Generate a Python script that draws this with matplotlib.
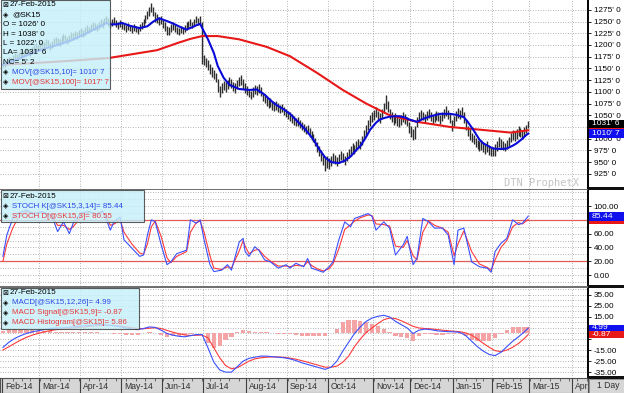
import matplotlib
matplotlib.use("Agg")
import matplotlib.pyplot as plt
import matplotlib.transforms as mtrans
from matplotlib.patches import Rectangle
import numpy as np
import pandas as pd

W, H = 624, 393

holidays = ["2014-02-17", "2014-04-18", "2014-05-26", "2014-07-04", "2014-09-01",
            "2014-11-27", "2014-12-25", "2015-01-01", "2015-01-19", "2015-02-16",
            "2015-04-03"]
# trading days from Feb 3 2014, axis runs on into Apr 2015
days = pd.bdate_range("2014-02-03", "2015-04-30", freq="C", holidays=holidays)

# daily high / low of @SK15, Feb-14 .. 27-Feb-2015
hi = [1168, 1166, 1172, 1175, 1172, 1178, 1182, 1180, 1186, 1184, 1190, 1188, 1194, 1192, 1189, 1195, 1199, 1204, 1201,
      1206, 1210, 1207, 1213, 1210, 1204, 1208, 1214, 1218, 1215, 1212, 1220, 1224, 1221, 1216, 1222, 1228, 1225, 1230, 1227, 1233,
      1236, 1232, 1238, 1242, 1239, 1245, 1250, 1247, 1244, 1250, 1255, 1252, 1258, 1262, 1257, 1252, 1256, 1260, 1254, 1250, 1253,
      1248, 1245, 1242, 1246, 1243, 1240, 1244, 1241, 1238, 1245, 1248, 1256, 1264, 1272, 1280, 1290, 1282, 1270, 1266, 1260, 1262,
      1255, 1248, 1240, 1238, 1244, 1249, 1243, 1238, 1236, 1240, 1237, 1242, 1248, 1252, 1255, 1250, 1256, 1262, 1258, 1261, 1248,
      1178, 1172, 1168, 1160, 1152, 1146, 1140, 1128, 1112, 1118, 1124, 1120, 1126, 1132, 1128, 1122, 1118, 1125, 1131, 1136, 1128, 1118,
      1112, 1106, 1102, 1110, 1115, 1112, 1116, 1110, 1098, 1094, 1088, 1084, 1086, 1080, 1078, 1080, 1076, 1072, 1074, 1068, 1064,
      1060, 1056, 1052, 1048, 1044, 1046, 1040, 1036, 1032, 1028, 1030, 1022, 1016, 1010, 1002, 992, 984, 976, 966, 958, 962,
      958, 964, 970, 966, 960, 968, 974, 970, 964, 972, 978, 984, 990, 986, 994, 1000, 996, 1006, 1018, 1030, 1040, 1050, 1058,
      1062, 1068, 1060, 1054, 1064, 1076, 1093, 1080, 1064, 1056, 1050, 1054, 1048, 1044, 1050, 1056, 1052, 1046, 1036,
      1026, 1020, 1028, 1046, 1056, 1062, 1058, 1052, 1060, 1064, 1056, 1050, 1054, 1060, 1056, 1050, 1058, 1064, 1070, 1062, 1054, 1040,
      1048, 1060, 1066, 1062, 1068, 1056, 1040, 1028, 1020, 1012, 1008, 1002, 998, 994, 998, 992, 988, 994, 986, 982,
      982, 988, 996, 1004, 1000, 994, 990, 998, 1004, 1012, 1018, 1014, 1020, 1026, 1022, 1016, 1024, 1030, 1038]
lo = [1152, 1154, 1158, 1160, 1161, 1164, 1168, 1167, 1171, 1172, 1175, 1176, 1179, 1180, 1176, 1181, 1185, 1188, 1187,
      1191, 1195, 1193, 1198, 1196, 1190, 1194, 1199, 1203, 1201, 1197, 1204, 1209, 1207, 1202, 1207, 1212, 1210, 1215, 1213, 1218,
      1220, 1217, 1222, 1227, 1225, 1230, 1234, 1232, 1229, 1235, 1239, 1237, 1242, 1246, 1240, 1236, 1240, 1244, 1238, 1235, 1238,
      1234, 1231, 1228, 1232, 1229, 1226, 1230, 1227, 1224, 1230, 1234, 1240, 1247, 1255, 1262, 1270, 1262, 1250, 1247, 1242, 1244,
      1236, 1230, 1222, 1221, 1228, 1233, 1227, 1224, 1222, 1226, 1223, 1228, 1233, 1237, 1240, 1236, 1241, 1246, 1243, 1245, 1160,
      1158, 1152, 1146, 1138, 1132, 1128, 1120, 1100, 1090, 1098, 1104, 1100, 1106, 1112, 1108, 1102, 1098, 1105, 1112, 1115, 1106, 1098,
      1094, 1088, 1084, 1090, 1096, 1094, 1098, 1092, 1080, 1076, 1070, 1066, 1068, 1062, 1060, 1062, 1058, 1054, 1056, 1050, 1046,
      1042, 1038, 1034, 1030, 1026, 1028, 1022, 1018, 1014, 1010, 1012, 1004, 998, 992, 984, 972, 962, 952, 944, 930, 938,
      936, 942, 948, 946, 942, 948, 954, 950, 944, 952, 958, 964, 970, 968, 974, 980, 978, 986, 998, 1008, 1018, 1028, 1036,
      1040, 1046, 1038, 1034, 1044, 1054, 1064, 1056, 1042, 1036, 1030, 1034, 1028, 1025, 1030, 1036, 1032, 1026, 1012,
      1004, 998, 1000, 1024, 1036, 1042, 1040, 1034, 1040, 1044, 1038, 1032, 1036, 1040, 1038, 1032, 1038, 1044, 1048, 1042, 1034, 1016,
      1026, 1038, 1044, 1042, 1046, 1034, 1018, 1006, 998, 992, 988, 982, 978, 974, 976, 972, 968, 972, 966, 962,
      962, 964, 974, 982, 980, 976, 974, 978, 984, 992, 998, 996, 1000, 1006, 1004, 1000, 1006, 1012, 1022]

# 10 and 100 day moving averages (trading-day index, value)
ma10_d = [0, 8, 15, 22, 28, 35, 41, 47, 53, 55, 58, 61, 65, 70, 74, 77, 80, 84, 87, 91, 94, 97, 99, 101,
          103, 105, 108, 110, 113, 116, 121, 126, 130, 134, 137, 140, 144, 147, 151, 155, 159, 162, 165,
          168, 172, 175, 178, 181, 183, 186, 188, 191, 193, 196, 198, 201, 203, 206, 208, 212, 215, 219,
          224, 229, 232, 236, 238, 241, 244, 246, 249, 251, 255, 258, 261, 263, 266, 268, 269]
ma10_v = [1158, 1170, 1183, 1193, 1200, 1210, 1221, 1234, 1247, 1244, 1244, 1247, 1241, 1236, 1240, 1250,
          1257, 1251, 1246, 1238, 1233, 1238, 1242, 1245, 1228, 1212, 1183, 1155, 1130, 1115, 1106, 1104,
          1105, 1094, 1082, 1072, 1062, 1053, 1036, 1019, 998, 977, 960, 950, 948, 953, 962, 976, 984, 1004,
          1019, 1034, 1041, 1045, 1047, 1048, 1048, 1045, 1041, 1036, 1042, 1048, 1053, 1053, 1051, 1046,
          1036, 1018, 998, 990, 983, 979, 978, 979, 985, 990, 1000, 1008, 1010.9]
ma100_d = [0, 14, 30, 54, 79, 90, 96, 102, 110, 121, 135, 147, 161, 174, 186, 198, 212, 229, 246, 260, 269]
ma100_v = [1158, 1161, 1165, 1172, 1189, 1205, 1213, 1219, 1219, 1212, 1196, 1176, 1140, 1104, 1075, 1050,
           1036, 1025, 1018.5, 1013, 1017.9]

# stochastics
k_d = [0, 2, 5, 8, 12, 16, 20, 25, 28, 31, 34, 36, 40, 44, 48, 51, 53, 55, 57, 60,
       62, 66, 70, 72, 74, 76, 78, 81, 84, 86, 89, 94, 96, 99, 101, 103, 106, 108, 112, 115,
       117, 121, 123, 124, 126, 129, 131, 134, 137, 141, 145, 147, 150, 154, 156, 158, 161, 164, 167, 169,
       172, 175, 178, 180, 183, 187, 189, 191, 195, 198, 201, 205, 207, 210, 212, 215, 218, 221, 225, 228,
       231, 233, 236, 240, 244, 248, 250, 252, 255, 258, 261, 264, 266, 269]
k_v = [27, 58, 82, 90, 94, 88, 92, 86, 63, 77, 60, 75, 90, 92, 88, 93, 80, 65, 78, 84,
       51, 39, 27, 29, 58, 80, 77, 44, 15, 19, 31, 36, 80, 75, 80, 51, 15, 5, 7, 15,
       7, 48, 53, 34, 27, 41, 36, 22, 19, 10, 15, 10, 17, 12, 24, 10, 7, 4, 12, 19,
       51, 77, 70, 82, 85, 89, 85, 65, 77, 68, 29, 44, 56, 15, 24, 82, 77, 68, 68, 58,
       15, 65, 68, 19, 12, 10, 4, 34, 46, 53, 80, 73, 75, 85.44]
d_v = [20, 45, 68, 84, 92, 90, 90, 87, 72, 72, 66, 70, 84, 91, 89, 91, 84, 72, 74, 80,
       62, 45, 32, 30, 45, 70, 78, 56, 25, 18, 27, 34, 62, 76, 78, 62, 28, 10, 8, 12,
       10, 35, 50, 42, 31, 36, 37, 27, 20, 13, 13, 12, 14, 13, 19, 14, 9, 6, 9, 16,
       38, 66, 73, 78, 83, 87, 86, 74, 73, 71, 42, 40, 50, 28, 22, 62, 78, 72, 68, 62,
       28, 45, 64, 34, 16, 11, 7, 22, 40, 50, 70, 76, 74, 80.55]

# MACD and signal
macd_d = list(range(0, 268, 3)) + [269]
macd_v = [-12.6, -8, -4.5, -2, 0, 1.5, 2.5, 3.5, 4.5, 5,
          5, 5.5, 6, 6.5, 7, 7.5, 8, 8, 7.5, 7,
          6, 5, 4, 3.5, 4.5, 6, 5.5, 3, 0, -1.5,
          -2.5, -3, -2, -1, -1, -13, -26, -33, -35, -35,
          -30, -25, -22.5, -21.5, -20.5, -20.5, -21, -21.5, -22, -23,
          -24.5, -26.5, -28, -29.5, -31, -32.5, -30.5, -25, -16, -8,
          0, 6, 11, 14, 15.6, 16.5, 15, 11, 8, 5,
          0, 3, 4, 3.5, 2.5, 2, 1.7, 1.5, 1, -2,
          -7, -12, -16, -19, -20, -17, -12, -7, -3, 1.5,
          4.99]
sig_v = [-15, -12, -9, -6, -3.5, -1.5, 0, 1.5, 2.5, 3.5,
         4, 4.5, 5, 5.5, 6, 6.5, 7, 7.5, 7.5, 7.3,
         6.8, 6, 5.2, 4.5, 4.3, 4.8, 5.2, 4.5, 2.8, 1.2,
         -0.2, -1.3, -1.8, -1.6, -1.4, -4, -13, -22, -29, -32,
         -31, -28, -25, -23, -22, -21.5, -21.2, -21.3, -21.6, -22.3,
         -23.3, -24.6, -26, -27.5, -29, -30.5, -30.5, -29.5, -26, -20.5,
         -12, -5, 1, 5, 9, 12.5, 14, 13.5, 11.5, 9,
         6.5, 5, 4.5, 4.2, 3.6, 3, 2.5, 2, 1.6, 0.5,
         -1.5, -5, -9, -12.5, -15.5, -16.5, -15, -12.5, -9, -4.5,
         -0.87]

FONT = ["Liberation Sans", "DejaVu Sans"]
plt.rcParams["font.family"] = FONT
BLUE = "#0a0ad8"
RED = "#e81818"
TBLUE = "#2a48e8"
TRED = "#e83a3a"
GRID = "#9a9a9a"

fig = plt.figure(figsize=(W / 100, H / 100), dpi=100)
fig.patch.set_facecolor("white")

PX = 1.953  # pixels per trading day
XL = (-1.5, -1.5 + 588 / PX)
month_start = [i for i in range(len(days)) if i == 0 or days[i].month != days[i - 1].month]
week_start = [i for i in range(1, len(days)) if days[i].weekday() < days[i - 1].weekday()]


def panel(top, bottom, ylim, grid):
    ax = fig.add_axes([0, 1 - bottom / H, 588 / W, (bottom - top) / H])
    ax.set_facecolor("white")
    ax.yaxis.tick_right()
    ax.set_xticks([])
    ax.tick_params(axis="y", length=2.5, width=0.6, pad=1.5, labelsize=5.9)
    for s in ["top", "left", "bottom"]:
        ax.spines[s].set_visible(False)
    ax.spines["right"].set_linewidth(1.4)
    for g in grid:
        ax.axhline(g, color=GRID, lw=0.6, ls=(0, (1, 2)), zorder=0)
    for m in month_start[1:]:
        ax.axvline(m - 0.5, color=GRID, lw=0.6, ls=(0, (1, 2)), zorder=0)
    ax.set_xlim(XL)
    ax.set_ylim(ylim)
    return ax


def vbox(ax, v, h, txt, fc, tc="white"):
    tr = mtrans.blended_transform_factory(ax.transAxes, ax.transData)
    ax.add_patch(Rectangle((1.002, v - h / 2), 0.062, h, transform=tr, clip_on=False,
                           facecolor=fc, edgecolor="none", zorder=6))
    if txt:
        ax.text(1.006, v, txt, transform=tr, color=tc, fontsize=6.1, va="center", ha="left",
                clip_on=False, zorder=7)


# ---- price panel
ax1 = panel(0, 189, (892.6, 1296), np.arange(925, 1276, 25))
ax1.vlines(range(len(hi)), lo, hi, color="#2e2e2e", lw=1.0, zorder=2)
ax1.plot(ma100_d, ma100_v, color=RED, lw=1.5, zorder=3)
ax1.plot(ma10_d, ma10_v, color=BLUE, lw=1.5, zorder=4)
pt = np.arange(925, 1276, 25)
ax1.set_yticks(pt, ["" if v == 1025 else f"{v}' 0" for v in pt])
ax1.set_ylim(892.6, 1296)
vbox(ax1, 1017.9, 18, "", RED)
vbox(ax1, 1010.9, 18, "1010' 7", "#1010ee")
vbox(ax1, 1031.75, 18, "1031' 6", "black")
ax1.text(0.985, 0.005, "DTN ProphetX", transform=ax1.transAxes, ha="right", va="bottom",
         color="#c4c4c4", fontsize=7.5, family="DejaVu Sans Mono", zorder=1)

# ---- stochastics panel
ax2 = panel(190, 286, (-15.9, 123.2), np.arange(-10, 121, 10))
ax2.axhline(80, color="#e05a5a", lw=0.9, zorder=1)
ax2.axhline(20, color="#e05a5a", lw=0.9, zorder=1)
ax2.plot(k_d, d_v, color="#ff3a3a", lw=0.8, zorder=3)
ax2.plot(k_d, k_v, color="#3a50ff", lw=0.8, zorder=4)
st = np.arange(0, 101, 20)
ax2.set_yticks(st, ["" if v == 80 else f"{v:.2f}" for v in st])
ax2.set_ylim(-15.9, 123.2)
vbox(ax2, 80.55, 13, "", RED)
vbox(ax2, 85.44, 13, "85.44", "#1010ee")

# ---- MACD panel
ax3 = panel(288, 378, (-40.3, 41.2), np.arange(-40, 41, 5))
hist = [m - s for m, s in zip(macd_v, sig_v)]
ax3.bar(macd_d, hist, width=2.2, color="#f4a4a4", edgecolor="none", zorder=2)
ax3.plot(macd_d, sig_v, color="#ff3a3a", lw=0.8, zorder=3)
ax3.plot(macd_d, macd_v, color="#3a50ff", lw=0.8, zorder=4)
mt = np.arange(-35, 36, 10)
ax3.set_yticks(mt, ["" if abs(v) == 5 else f"{v:.2f}" for v in mt])
ax3.set_xlim(XL)
ax3.set_ylim(-40.3, 41.2)
vbox(ax3, -0.87, 5.9, "-0.87", RED)
vbox(ax3, 4.99, 5.9, "4.99", "#1010ee")

# ---- date strip
axx = fig.add_axes([0, 0, 588 / W, 15 / H])
axx.set_facecolor("#d6d6d6")
axx.set_yticks([])
axx.set_xticks([m - 0.5 for m in month_start])
axx.set_xticks(week_start, minor=True)
axx.set_xticklabels([])
axx.set_xlim(XL)
axx.set_ylim(0, 1)
axx.tick_params(axis="x", which="both", direction="in", top=True, bottom=False, color="#404040")
axx.tick_params(axis="x", which="major", length=15, width=0.8)
axx.tick_params(axis="x", which="minor", length=2, width=0.5)
for s in axx.spines.values():
    s.set_color("#505050")
    s.set_linewidth(0.8)
for m in month_start:
    # the last month only shows as "Apr" at the right edge
    lab = days[m].strftime("%b-%y") if m != month_start[-1] else days[m].strftime("%b")
    axx.text(m + 1.0, 0.42, lab, fontsize=6.2, color="#303030",
             va="center", ha="left", clip_on=True)


def px(x, y):
    return x / W, 1 - y / H


def ptext(x, y, s, color="black", size=5.7, **kw):
    fig.text(*px(x, y), s, color=color, fontsize=size, va="center", ha="left", zorder=8, **kw)


# separators and right-hand furniture
fig.patches.append(Rectangle(px(0, 190), 588 / W, 1.2 / H, transform=fig.transFigure,
                             facecolor="#707070", zorder=5))
fig.patches.append(Rectangle(px(0, 287.5), 588 / W, 1.2 / H, transform=fig.transFigure,
                             facecolor="#707070", zorder=5))
for yb in (190, 287.5, 378.5):
    fig.patches.append(Rectangle(px(588, yb), 36 / W, 3 / H, transform=fig.transFigure,
                                 facecolor="#101010", zorder=5))
fig.patches.append(Rectangle(px(588.5, 393), 35.5 / W, 14.5 / H, transform=fig.transFigure,
                             facecolor="#d6d6d6", edgecolor="#808080", lw=0.6, zorder=5))
ptext(597, 385.5, "1 Day", color="#303030", size=6.2)

# legend boxes
CYAN = "#c6f0f9"
for (x1, y1, y2) in [(110, 0, 89), (144, 190, 222), (139, 288, 329)]:
    fig.patches.append(Rectangle(px(0.5, y2), (x1 - 0.5) / W, (y2 - y1) / H, transform=fig.transFigure,
                                 facecolor=CYAN, alpha=0.82, edgecolor="#3a3a3a", lw=0.8, zorder=6))

ICON = "\u22a0"
DOT = "\u25c8"
ptext(2, 5, ICON, size=5, family="DejaVu Sans")
ptext(10, 5, "27-Feb-2015", size=5.9)
ptext(3, 15, DOT, size=5, family="DejaVu Sans")
ptext(12, 15, "@SK15", size=5.9)
ptext(3, 24.5, "O = 1026' 0", size=5.9)
ptext(3, 34, "H = 1038' 0", size=5.9)
ptext(3, 43.5, "L = 1022' 0", size=5.9)
ptext(3, 53, "LA= 1031' 6", size=5.9)
ptext(3, 62.5, "NC= 5' 2", size=5.9)
ptext(3, 72, DOT, size=5, family="DejaVu Sans")
ptext(12, 72, "MOV[@SK15,10]= 1010' 7", color=TBLUE)
ptext(3, 82, DOT, size=5, family="DejaVu Sans")
ptext(12, 82, "MOV[@SK15,100]= 1017' 7", color=TRED)

ptext(2, 196, ICON, size=5, family="DejaVu Sans")
ptext(10, 196, "27-Feb-2015", size=5.9)
ptext(3, 206, DOT, size=5, family="DejaVu Sans")
ptext(12, 206, "STOCH K[@SK15,3,14]= 85.44", color=TBLUE)
ptext(3, 216, DOT, size=5, family="DejaVu Sans")
ptext(12, 216, "STOCH D[@SK15,3]= 80.55", color=TRED)

ptext(2, 293, ICON, size=5, family="DejaVu Sans")
ptext(10, 293, "27-Feb-2015", size=5.9)
ptext(3, 303, DOT, size=5, family="DejaVu Sans")
ptext(12, 303, "MACD[@SK15,12,26]= 4.99", color=TBLUE)
ptext(3, 313, DOT, size=5, family="DejaVu Sans")
ptext(12, 313, "MACD Signal[@SK15,9]= -0.87", color=TRED)
ptext(3, 323, DOT, size=5, family="DejaVu Sans")
ptext(12, 323, "MACD Histogram[@SK15]= 5.86", color=TRED)

fig.savefig("out.png", dpi=100)
